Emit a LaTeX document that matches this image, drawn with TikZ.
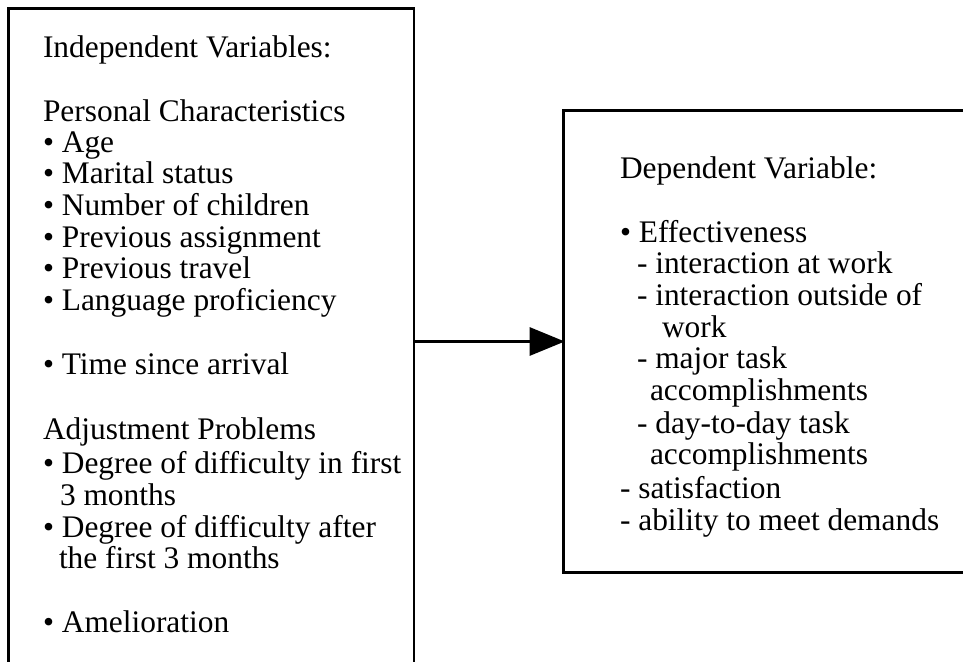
\documentclass[tikz,border=0pt]{standalone}
\usepackage{fontspec}
\setmainfont{Liberation Serif}
\usetikzlibrary{arrows.meta}

\tikzset{
  frame/.style={draw=black, line width=2.8pt, rectangle, inner sep=0pt, outer sep=0pt},
  txt/.style={anchor=base west, inner sep=0pt, outer sep=0pt,
              font=\fontsize{31.4pt}{31.5pt}\selectfont},
  link/.style={line width=2.8pt, -{Triangle[length=35pt, width=28pt]}, shorten >=-1.2pt}
}

\begin{document}
\begin{tikzpicture}[x=1pt, y=-1pt]
  \useasboundingbox (0,0) rectangle (963,661);
  \clip (0,0) rectangle (963,661);

  % the two boxes (the left one runs off the bottom, the right one off the right edge)
  \node[frame, anchor=north west, minimum width=405.5pt, minimum height=690pt]
    (indep) at (8.5,8.8) {};
  \node[frame, anchor=north west, minimum width=420pt, minimum height=462pt]
    (dep) at (563.5,110.5) {};

  % arrow from the independent to the dependent variables
  \draw[link] (dep.west -| indep.east) -- (dep.west);

  % left box text
  \foreach \x/\y/\t [count=\i] in {
      43/57/Independent Variables:,
      43/121/Personal Characteristics,
      43/152/• Age,
      43/183/• Marital status,
      43/215/• Number of children,
      43/247/• Previous assignment,
      43/278/• Previous travel,
      43/310/• Language proficiency,
      43/374/• Time since arrival,
      43/439/Adjustment Problems,
      43/473/• Degree of difficulty in first,
      60/505/3 months,
      43/537/• Degree of difficulty after,
      59/568/the first 3 months,
      43/632/• Amelioration}
    \node[txt] (L\i) at (\x,\y) {\t};

  % right box text
  \foreach \x/\y/\t [count=\i] in {
      620/178/Dependent Variable:,
      620/242/• Effectiveness,
      637/273/- interaction at work,
      637/305/- interaction outside of,
      662/337/work,
      637/368/- major task,
      650/400/accomplishments,
      637/433/- day-to-day task,
      650/464/accomplishments,
      620/498/- satisfaction,
      620/530/- ability to meet demands}
    \node[txt] (R\i) at (\x,\y) {\t};
\end{tikzpicture}
\end{document}
